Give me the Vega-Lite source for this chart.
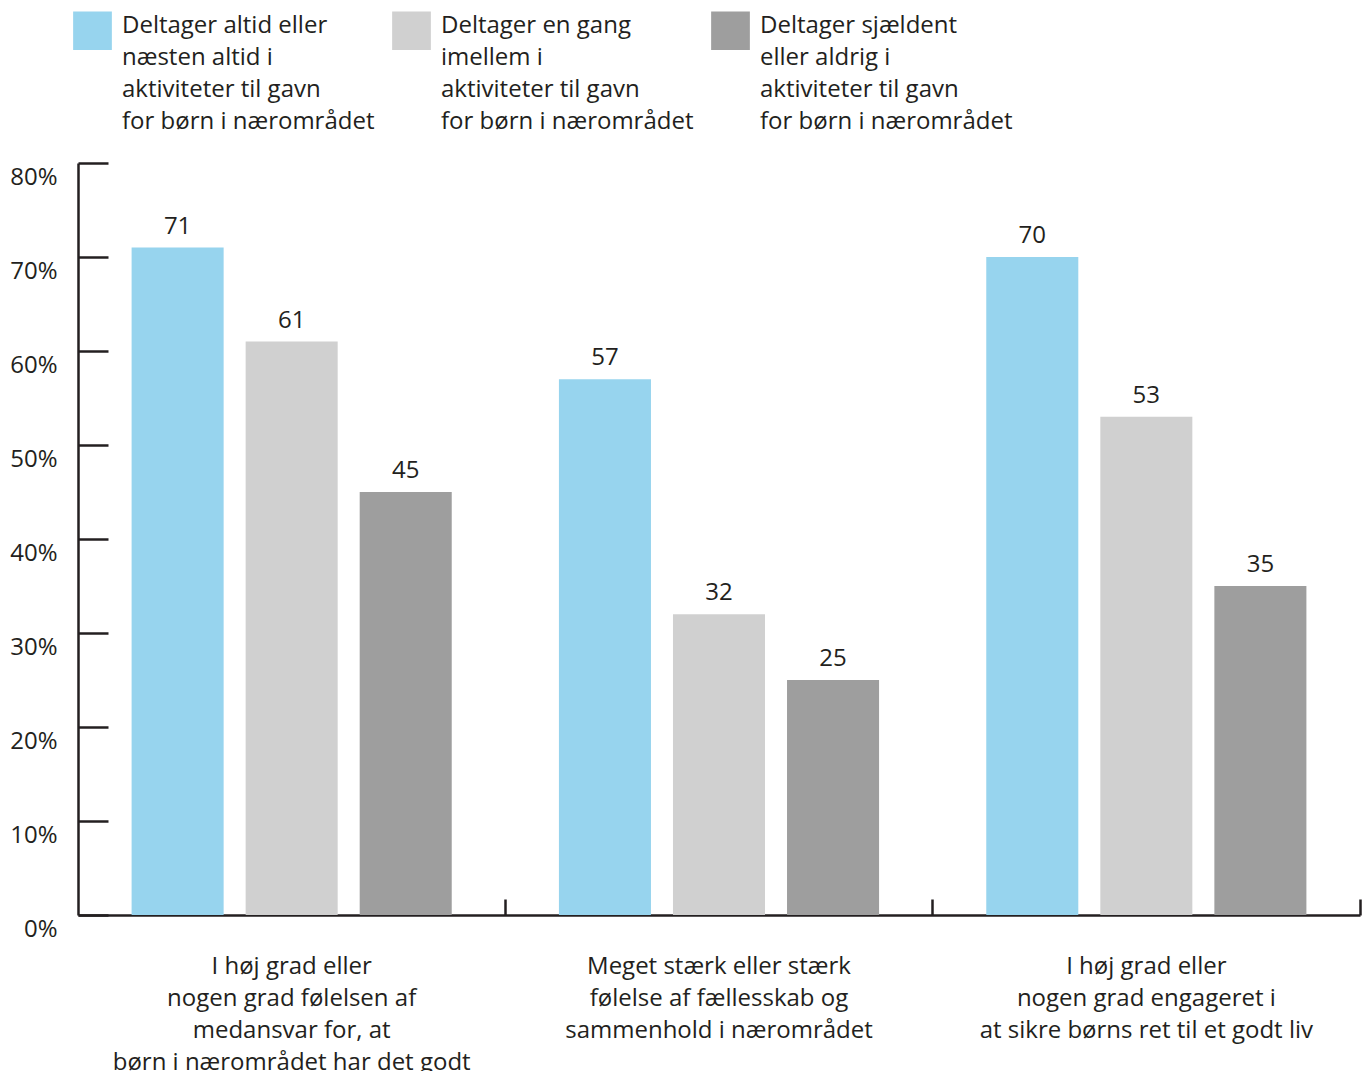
{
  "$schema": "https://vega.github.io/schema/vega-lite/v6.json",
  "width": 1282,
  "height": 752,
  "autosize": {"type": "none"},
  "padding": {"left": 78, "top": 163, "right": 3, "bottom": 156},
  "background": "white",
  "config": {"view": {"stroke": null}, "font": "Open Sans"},
  "data": {
    "values": [
      {"group": "I høj grad eller nogen grad følelsen af medansvar for, at børn i nærområdet har det godt", "series": "Deltager altid eller næsten altid i aktiviteter til gavn for børn i nærområdet", "value": 71},
      {"group": "I høj grad eller nogen grad følelsen af medansvar for, at børn i nærområdet har det godt", "series": "Deltager en gang imellem i aktiviteter til gavn for børn i nærområdet", "value": 61},
      {"group": "I høj grad eller nogen grad følelsen af medansvar for, at børn i nærområdet har det godt", "series": "Deltager sjældent eller aldrig i aktiviteter til gavn for børn i nærområdet", "value": 45},
      {"group": "Meget stærk eller stærk følelse af fællesskab og sammenhold i nærområdet", "series": "Deltager altid eller næsten altid i aktiviteter til gavn for børn i nærområdet", "value": 57},
      {"group": "Meget stærk eller stærk følelse af fællesskab og sammenhold i nærområdet", "series": "Deltager en gang imellem i aktiviteter til gavn for børn i nærområdet", "value": 32},
      {"group": "Meget stærk eller stærk følelse af fællesskab og sammenhold i nærområdet", "series": "Deltager sjældent eller aldrig i aktiviteter til gavn for børn i nærområdet", "value": 25},
      {"group": "I høj grad eller nogen grad engageret i at sikre børns ret til et godt liv", "series": "Deltager altid eller næsten altid i aktiviteter til gavn for børn i nærområdet", "value": 70},
      {"group": "I høj grad eller nogen grad engageret i at sikre børns ret til et godt liv", "series": "Deltager en gang imellem i aktiviteter til gavn for børn i nærområdet", "value": 53},
      {"group": "I høj grad eller nogen grad engageret i at sikre børns ret til et godt liv", "series": "Deltager sjældent eller aldrig i aktiviteter til gavn for børn i nærområdet", "value": 35}
    ]
  },
  "encoding": {
    "x": {
      "field": "group",
      "type": "nominal",
      "sort": null,
      "scale": {"paddingInner": 0, "paddingOuter": 0},
      "axis": {
        "title": null,
        "bandPosition": 1,
        "labelAngle": 0,
        "tickSize": -16,
        "tickWidth": 2.5,
        "tickColor": "#231f20",
        "domainColor": "#231f20",
        "domainWidth": 2.5,
        "labelPadding": 55,
        "labelBaseline": "top",
        "labelAlign": "center",
        "labelFontSize": 24,
        "labelLineHeight": 32,
        "labelColor": "#231f20",
        "labelLimit": 0,
        "labelExpr": "indexof(datum.label, 'medansvar') >= 0 ? ['I høj grad eller', 'nogen grad følelsen af', 'medansvar for, at', 'børn i nærområdet har det godt'] : indexof(datum.label, 'Meget') >= 0 ? ['Meget stærk eller stærk', 'følelse af fællesskab og', 'sammenhold i nærområdet'] : ['I høj grad eller', 'nogen grad engageret i', 'at sikre børns ret til et godt liv']"
      }
    },
    "xOffset": {
      "field": "series",
      "sort": null,
      "scale": {"paddingInner": 0.193, "paddingOuter": 0.47}
    },
    "y": {
      "field": "value",
      "type": "quantitative",
      "scale": {"domain": [0, 80]},
      "axis": {
        "title": null,
        "values": [0, 10, 20, 30, 40, 50, 60, 70, 80],
        "labelExpr": "datum.value + '%'",
        "grid": false,
        "tickSize": -30,
        "tickWidth": 2.5,
        "tickColor": "#231f20",
        "domainColor": "#231f20",
        "domainWidth": 2.5,
        "labelPadding": 51,
        "labelOffset": 14,
        "labelFontSize": 24,
        "labelColor": "#231f20"
      }
    }
  },
  "layer": [
    {
      "mark": {"type": "bar"},
      "encoding": {
        "color": {
          "field": "series",
          "type": "nominal",
          "sort": null,
          "scale": {"range": ["#97d4ee", "#d0d0d0", "#9e9e9e"]},
          "legend": {
            "title": null,
            "orient": "none",
            "legendX": -5,
            "legendY": -152,
            "direction": "horizontal",
            "columns": 3,
            "columnPadding": 17,
            "symbolType": "square",
            "symbolSize": 1500,
            "symbolStrokeWidth": 0,
            "symbolOpacity": 1,
            "labelFontSize": 24,
            "labelColor": "#231f20",
            "labelLimit": 0,
            "labelOffset": 10,
            "padding": 0,
            "labelExpr": "indexof(datum.label, 'næsten') >= 0 ? ['Deltager altid eller', 'næsten altid i', 'aktiviteter til gavn', 'for børn i nærområdet'] : indexof(datum.label, 'imellem') >= 0 ? ['Deltager en gang', 'imellem i', 'aktiviteter til gavn', 'for børn i nærområdet'] : ['Deltager sjældent', 'eller aldrig i', 'aktiviteter til gavn', 'for børn i nærområdet']",
            "encode": {
              "labels": {"update": {"lineHeight": {"value": 32}, "dy": {"value": -5}}}
            }
          }
        }
      }
    },
    {
      "mark": {"type": "text", "baseline": "bottom", "dy": -9, "fontSize": 24, "color": "#231f20"},
      "encoding": {"text": {"field": "value", "type": "quantitative"}}
    }
  ]
}
